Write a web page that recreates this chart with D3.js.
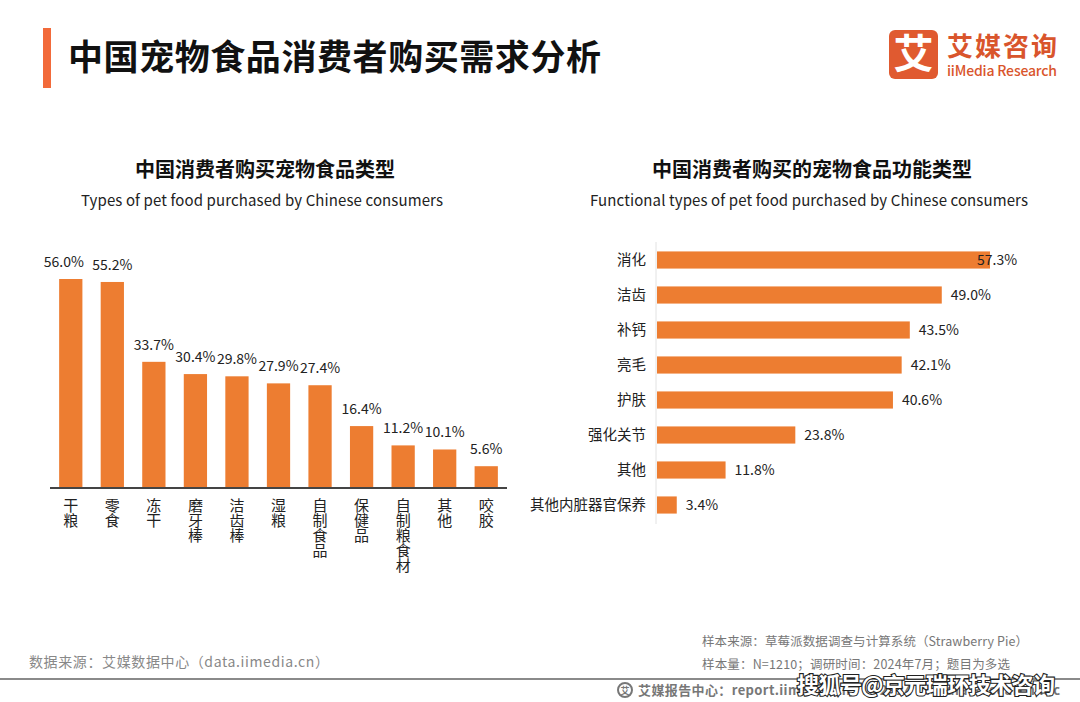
<!DOCTYPE html>
<html><head><meta charset="utf-8">
<script src="https://cdn.jsdelivr.net/npm/d3@7"></script>
<style>
html,body{margin:0;padding:0;background:#fff;}
svg{display:block;font-family:"Noto Sans CJK SC","Noto Sans",sans-serif;}
.vert{writing-mode:vertical-rl;text-orientation:upright;}
</style></head>
<body>
<svg id="c" width="1080" height="702"></svg>
<script>
// ---- data ----
const leftCategories = ["干粮","零食","冻干","磨牙棒","洁齿棒","湿粮","自制食品","保健品","自制粮食材","其他","咬胶"];
const leftValues = [56.0,55.2,33.7,30.4,29.8,27.9,27.4,16.4,11.2,10.1,5.6];
const rightCategories = ["消化","洁齿","补钙","亮毛","护肤","强化关节","其他","其他内脏器官保养"];
const rightValues = [57.3,49.0,43.5,42.1,40.6,23.8,11.8,3.4];

const mainTitle = "中国宠物食品消费者购买需求分析";
const leftTitle = "中国消费者购买宠物食品类型";
const leftSubtitle = "Types of pet food purchased by Chinese consumers";
const rightTitle = "中国消费者购买的宠物食品功能类型";
const rightSubtitle = "Functional types of pet food purchased by Chinese consumers";

const ORANGE = "#ED7D31";
const svg = d3.select("#c");

// ---- header ----
svg.append("rect").attr("x",43).attr("y",28).attr("width",8).attr("height",60).attr("fill","#F26A3A");
svg.append("text").attr("x",68).attr("y",70).attr("font-size",35).attr("font-weight",700)
  .attr("fill","#111").attr("textLength",533).text(mainTitle);

// logo
const logo = svg.append("g");
logo.append("rect").attr("x",889).attr("y",30).attr("width",49).attr("height",49).attr("rx",6).attr("fill","#E05A30");
logo.append("text").attr("x",913.5).attr("y",68).attr("text-anchor","middle").attr("font-size",40)
  .attr("font-weight",700).attr("fill","#fff").text("艾");
logo.append("text").attr("x",947).attr("y",56).attr("font-size",26).attr("font-weight",700)
  .attr("fill","#D9552C").attr("textLength",110).text("艾媒咨询");
logo.append("text").attr("x",947).attr("y",76).attr("font-size",14).attr("font-weight",500)
  .attr("fill","#D9552C").attr("textLength",110).text("iiMedia Research");

// ---- left chart ----
svg.append("text").attr("x",265).attr("y",177).attr("text-anchor","middle").attr("font-size",20)
  .attr("font-weight",700).attr("fill","#111").text(leftTitle);
svg.append("text").attr("x",262).attr("y",206).attr("text-anchor","middle").attr("font-size",15)
  .attr("fill","#222").attr("textLength",362).text(leftSubtitle);

const lx = d3.scaleBand().domain(leftCategories).range([50,507]).paddingInner(0.44).paddingOuter(0.22);
const ly = d3.scaleLinear().domain([0,56]).range([487,279]);

const lg = svg.append("g");
lg.selectAll("rect").data(leftValues).join("rect")
  .attr("x",(d,i)=>lx(leftCategories[i]))
  .attr("width",lx.bandwidth())
  .attr("y",d=>ly(d))
  .attr("height",d=>ly(0)-ly(d))
  .attr("fill",ORANGE);
lg.selectAll("text.v").data(leftValues).join("text").attr("class","v")
  .attr("x",(d,i)=>lx(leftCategories[i])+lx.bandwidth()/2 + (i===0?-7:0))
  .attr("y",d=>ly(d)-12)
  .attr("text-anchor","middle").attr("font-size",14).attr("fill","#222")
  .text(d=>d.toFixed(1)+"%");
lg.append("line").attr("x1",50).attr("x2",507).attr("y1",488).attr("y2",488)
  .attr("stroke","#444").attr("stroke-width",2);
// vertical category labels
lg.selectAll("text.c").data(leftCategories).join("text").attr("class","c vert")
  .attr("x",d=>lx(d)+lx.bandwidth()/2)
  .attr("y",498)
  .attr("font-size",15).attr("fill","#222")
  .text(d=>d);

// ---- right chart ----
svg.append("text").attr("x",812).attr("y",177).attr("text-anchor","middle").attr("font-size",20)
  .attr("font-weight",700).attr("fill","#111").text(rightTitle);
svg.append("text").attr("x",809).attr("y",206).attr("text-anchor","middle").attr("font-size",15)
  .attr("fill","#222").attr("textLength",438).text(rightSubtitle);

const ry = d3.scaleBand().domain(rightCategories).range([242.5,522.5]).paddingInner(0.51).paddingOuter(0.255);
const rx = d3.scaleLinear().domain([0,57.3]).range([657,990]);
const rg = svg.append("g");
rg.append("line").attr("x1",656).attr("x2",656).attr("y1",242).attr("y2",524)
  .attr("stroke","#e2e2e2").attr("stroke-width",1);
rg.selectAll("rect").data(rightValues).join("rect")
  .attr("x",rx(0))
  .attr("y",(d,i)=>ry(rightCategories[i]))
  .attr("height",ry.bandwidth())
  .attr("width",d=>rx(d)-rx(0))
  .attr("fill",ORANGE);
rg.selectAll("text.v").data(rightValues).join("text").attr("class","v")
  .attr("x",d=>Math.min(rx(d)+9,977))
  .attr("y",(d,i)=>ry(rightCategories[i])+ry.bandwidth()/2)
  .attr("dy","0.35em").attr("font-size",14).attr("fill","#222")
  .text(d=>d.toFixed(1)+"%");
rg.selectAll("text.c").data(rightCategories).join("text").attr("class","c")
  .attr("x",646)
  .attr("y",d=>ry(d)+ry.bandwidth()/2)
  .attr("dy","0.36em").attr("text-anchor","end").attr("font-size",14.5).attr("fill","#222")
  .text(d=>d);

// ---- footer ----
svg.append("text").attr("x",29).attr("y",667).attr("font-size",14).attr("fill","#888")
  .attr("textLength",300).text("数据来源：艾媒数据中心（data.iimedia.cn）");
svg.append("text").attr("x",702).attr("y",646).attr("font-size",12.5).attr("fill","#777")
  .attr("textLength",326).text("样本来源：草莓派数据调查与计算系统（Strawberry Pie）");
svg.append("text").attr("x",702).attr("y",669).attr("font-size",12.5).attr("fill","#777")
  .attr("textLength",308).text("样本量：N=1210；调研时间：2024年7月；题目为多选");
svg.append("line").attr("x1",0).attr("x2",1080).attr("y1",679).attr("y2",679)
  .attr("stroke","#8a8a8a").attr("stroke-width",2);
// footer icon
svg.append("circle").attr("cx",625).attr("cy",690).attr("r",7).attr("fill","none").attr("stroke","#777").attr("stroke-width",2);
svg.append("text").attr("x",625).attr("y",694).attr("text-anchor","middle").attr("font-size",9).attr("font-weight",700).attr("fill","#777").text("艾");
svg.append("text").attr("x",638).attr("y",695).attr("font-size",13).attr("font-weight",700).attr("fill","#777")
  .attr("textLength",212).text("艾媒报告中心：report.iimedia.cn");
svg.append("text").attr("x",868).attr("y",695).attr("font-size",13).attr("font-weight",700).attr("fill","#777")
  .attr("textLength",192).text("©2024  iiMedia Research  Inc");
// watermark
svg.append("text").attr("x",797).attr("y",693).attr("font-size",22).attr("font-weight",700)
  .attr("fill","#fff").attr("stroke","#222").attr("stroke-width",2.2).attr("paint-order","stroke")
  .attr("textLength",258).text("搜狐号@京元瑞环技术咨询");
</script>
</body></html>
